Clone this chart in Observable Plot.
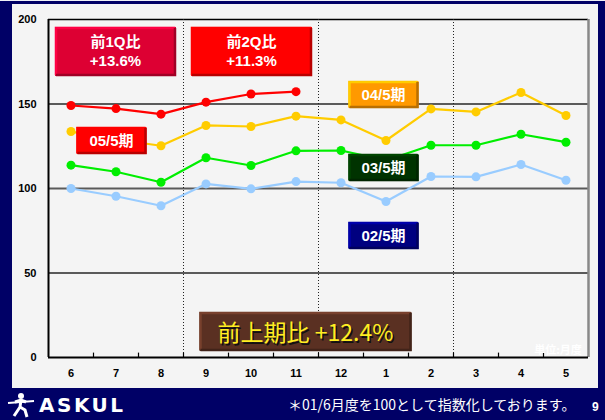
<!DOCTYPE html>
<html>
<head>
<meta charset="utf-8">
<script src="https://cdn.jsdelivr.net/npm/d3@7"></script>
<script src="https://cdn.jsdelivr.net/npm/@observablehq/plot@0.6"></script>
<style>
  html, body { margin: 0; padding: 0; background: #000066; }
  #page { position: relative; width: 605px; height: 420px; overflow: hidden; background: #000066;
          font-family: "Liberation Sans", Arial, "Noto Sans CJK JP", sans-serif; }
  #topline { position: absolute; left: 0; top: 0; width: 605px; height: 1px; background: #eef0f6; }
  #panel { position: absolute; left: 12px; top: 4px; width: 586px; height: 384px; background: #f4f4f4; }
  #chart { position: absolute; left: 0; top: 0; }
  #chart svg { background: transparent !important; }
  #logo { position: absolute; left: 6px; top: 392px; height: 26px; display: flex; align-items: center; }
  #logo span { color: #fff; font-weight: bold; font-size: 20px; letter-spacing: 2.5px; margin-left: 3px;
               font-family: "DejaVu Sans", "Liberation Sans", sans-serif; }
  #note { position: absolute; left: 288px; top: 394px; color: #fff; font-size: 14px;
          font-family: "Noto Sans CJK JP", sans-serif; white-space: nowrap; }
  #pageno { position: absolute; left: 592px; top: 400px; color: #fff; font-size: 12px; font-weight: bold; }
</style>
</head>
<body>
<div id="page">
  <div id="topline"></div>
  <div id="panel"></div>
  <div id="chart"></div>
  <div id="logo">
    <svg width="30" height="26" viewBox="0 0 30 26">
      <circle cx="15" cy="4" r="3" fill="#fff"/>
      <path d="M2 11 L28 9" stroke="#fff" stroke-width="2" fill="none"/>
      <path d="M9 10 L15 8 L20 10" stroke="#fff" stroke-width="3" fill="none"/>
      <path d="M15 8 L14 15 L8 24 M14 15 L19 18 L21 25" stroke="#fff" stroke-width="3" fill="none"/>
    </svg>
    <span>ASKUL</span>
  </div>
  <div id="note">＊01/6月度を100として指数化しております。</div>
  <div id="pageno">9</div>
</div>
<script>
// ---- data ----
const months = ["6","7","8","9","10","11","12","1","2","3","4","5"];
const s05 = [149.1, 147.3, 144.0, 151.1, 155.9, 157.3];
const s04 = [133.7, 129.0, 125.3, 137.3, 136.7, 142.8, 140.6, 128.4, 147.1, 145.3, 156.8, 143.2];
const s03 = [113.8, 109.9, 103.7, 118.2, 113.6, 122.3, 122.5, 116.6, 125.6, 125.6, 132.1, 127.4];
const s02 = [100.0, 95.4, 89.8, 102.7, 99.8, 104.1, 103.4, 92.3, 107.1, 106.9, 114.2, 104.9];
const seriesNames = ["02/5期", "03/5期", "04/5期", "05/5期"];
const seriesColors = ["#99ccff", "#00ee00", "#ffcc00", "#ff0000"];
const yTicks = [0, 50, 100, 150, 200];
const quarterBreaks = [2.5, 5.5, 8.5];

// annotation boxes (anchored in data space)
const boxLabels = [
  {text: ["前1Q比", "+13.6%"], m: "7", v: 180.8, dx: 0, w: 121, h: 49, fill: "#dd0033", color: "#fff", size: 15, weight: "bold"},
  {text: ["前2Q比", "+11.3%"], m: "10", v: 180.8, dx: 1, w: 121, h: 49, fill: "#ff0000", color: "#fff", size: 15, weight: "bold"},
  {text: ["05/5期"], m: "7", v: 128.1, dx: -4, w: 70, h: 27, fill: "#ff0000", color: "#fff", size: 15, weight: "bold"},
  {text: ["04/5期"], m: "1", v: 155.3, dx: -2, w: 70, h: 27, fill: "#ff9900", color: "#fff", size: 15, weight: "bold"},
  {text: ["03/5期"], m: "1", v: 112.1, dx: -2, w: 70, h: 27, fill: "#003300", color: "#fff", size: 15, weight: "bold"},
  {text: ["02/5期"], m: "1", v: 71.9, dx: -2, w: 70, h: 27, fill: "#000080", color: "#fff", size: 15, weight: "bold"},
  {text: ["前上期比 +12.4%"], m: "11", v: 15.1, dx: 10, w: 212, h: 39, fill: "#5a3022", color: "#ffee22", size: 23, weight: "normal", shadow: true}
];
const unitLabel = "単位:月度";

// ---- build table ----
const all = [s02, s03, s04, s05];
const rows = [];
all.forEach((vals, k) => vals.forEach((v, i) => rows.push({i, v, s: seriesNames[k]})));
const boundaries = d3.range(0.5, 11, 1);
const idx = m => months.indexOf(m);

function bevelBoxes(index, scales, values, dims, context) {
  const g = d3.create("svg:g");
  for (const b of boxLabels) {
    const cx = scales.x(idx(b.m)) + b.dx;
    const cy = scales.y(b.v);
    const x0 = cx - b.w / 2, y0 = cy - b.h / 2;
    const c = d3.color(b.fill);
    g.append("rect").attr("x", x0).attr("y", y0).attr("width", b.w).attr("height", b.h).attr("fill", b.fill);
    g.append("path").attr("d", `M${x0+1},${y0+b.h-1}V${y0+1}H${x0+b.w-1}`)
      .attr("stroke", c.brighter(0.8)).attr("stroke-width", 2.5).attr("fill", "none");
    g.append("path").attr("d", `M${x0+b.w-1},${y0+1}V${y0+b.h-1}H${x0+1}`)
      .attr("stroke", c.darker(0.9)).attr("stroke-width", 2.5).attr("fill", "none");
    const n = b.text.length;
    b.text.forEach((t, j) => {
      const ty = cy + (j - (n - 1) / 2) * (b.size + 4);
      if (b.shadow) {
        g.append("text").attr("x", cx + 1.5).attr("y", ty + 1.5).attr("text-anchor", "middle")
          .attr("dominant-baseline", "central").attr("fill", "#111").attr("font-size", b.size)
          .attr("font-family", "'Noto Sans CJK JP', sans-serif").text(t);
      }
      g.append("text").attr("x", cx).attr("y", ty).attr("text-anchor", "middle")
        .attr("dominant-baseline", "central").attr("fill", b.color).attr("font-size", b.size)
        .attr("font-weight", b.weight)
        .attr("font-family", b.shadow ? "'Noto Sans CJK JP', sans-serif" : "'Liberation Sans', 'Noto Sans CJK JP', sans-serif")
        .text(t);
    });
  }
  return g.node();
}

const chart = Plot.plot({
  width: 605,
  height: 388,
  marginLeft: 48,
  marginRight: 17,
  marginTop: 19,
  marginBottom: 31,
  style: {background: "transparent", fontFamily: "'Liberation Sans', Arial, sans-serif"},
  x: {domain: [-0.5, 11.5], axis: null, label: null},
  y: {domain: [0, 200], axis: null, label: null},
  marks: [
    Plot.ruleY([50, 100, 150], {stroke: "#5a5a5a", strokeWidth: 2}),
    Plot.ruleY([200], {stroke: "#000", strokeWidth: 1.5}),
    Plot.ruleX([11.5], {stroke: "#888", strokeWidth: 2.5}),
    Plot.ruleX(quarterBreaks, {stroke: "#222", strokeWidth: 1, strokeDasharray: "1,2"}),
    Plot.ruleX(boundaries, {y1: 0, y2: 2.6, stroke: "#000", strokeWidth: 1.2}),
    Plot.ruleX([-0.5], {stroke: "#000", strokeWidth: 2}),
    Plot.ruleY([0], {stroke: "#000", strokeWidth: 2}),
    Plot.line(rows, {x: "i", y: "v", z: "s", stroke: d => seriesColors[seriesNames.indexOf(d.s)], strokeWidth: 2.2}),
    Plot.dot(rows, {x: "i", y: "v", r: 4.5, fill: d => seriesColors[seriesNames.indexOf(d.s)], stroke: null}),
    Plot.axisY({ticks: yTicks, label: null, tickSize: 0, tickPadding: 12, fontSize: 11, fontWeight: "bold", fill: "#000"}),
    Plot.axisX({ticks: d3.range(12), label: null, tickFormat: i => months[i], tickSize: 0, tickPadding: 12, fontSize: 11, fontWeight: "bold", fill: "#000"}),
    bevelBoxes,
    Plot.text([unitLabel], {x: idx("5"), y: 4.1, dx: -8, text: d => d, fill: "#fff", fontSize: 11, fontWeight: "bold", fontFamily: "'Noto Sans CJK JP', sans-serif"})
  ]
});
document.getElementById("chart").appendChild(chart);
</script>
</body>
</html>
